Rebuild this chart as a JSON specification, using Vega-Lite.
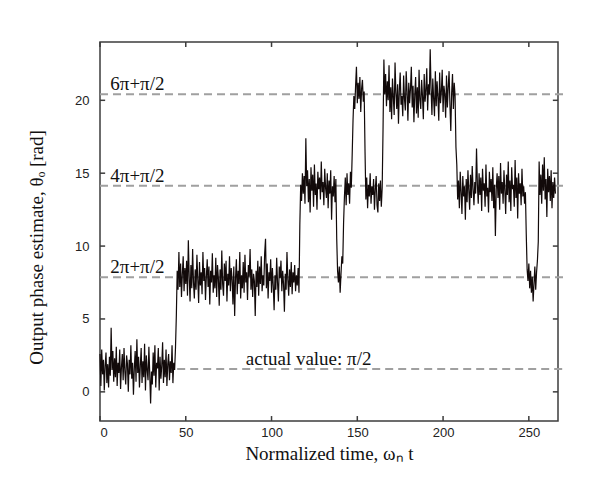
{
"$schema": "https://vega.github.io/schema/vega-lite/v6.json",
"width": 458, "height": 379,
"autosize": {"type": "none"},
"padding": {"left": 100, "top": 42, "right": 42, "bottom": 64},
"background": "white",
"config": {
  "view": {"stroke": "#3c3c3c", "strokeWidth": 1.5},
  "axis": {"domain": false, "grid": false, "ticks": false,
    "labelFont": "Liberation Sans", "labelFontSize": 13, "labelColor": "#222",
    "titleFont": "Liberation Serif", "titleFontSize": 19, "titleFontWeight": "normal", "titleColor": "#111"}
},
"datasets": {
  "refs": [
    {"level": 1.5708, "from": 45, "to": 270},
    {"level": 7.854, "from": 0, "to": 270},
    {"level": 14.137, "from": 0, "to": 270},
    {"level": 20.42, "from": 0, "to": 270}
  ],
  "xticks": [{"t": 0}, {"t": 50}, {"t": 100}, {"t": 150}, {"t": 200}, {"t": 250}],
  "yticks": [{"v": 0}, {"v": 5}, {"v": 10}, {"v": 15}, {"v": 20}],
  "labels": [
    {"t": 6, "v": 20.42, "label": "6π+π/2"},
    {"t": 6, "v": 14.137, "label": "4π+π/2"},
    {"t": 6, "v": 7.854, "label": "2π+π/2"},
    {"t": 85, "v": 1.5708, "label": "actual value: π/2"}
  ],
  "signal": [
{"t":0,"v":2.6},{"t":0.5,"v":0.4},{"t":1,"v":2.9},{"t":1.5,"v":1.2},{"t":2,"v":2.2},{"t":2.5,"v":0.1},{"t":3,"v":1.8},{"t":3.5,"v":2.7},{"t":4,"v":0.6},{"t":4.5,"v":1.9},
{"t":5,"v":0.3},{"t":5.5,"v":2.4},{"t":6,"v":1.1},{"t":6.5,"v":4.4},{"t":7,"v":1.5},{"t":7.5,"v":2.8},{"t":8,"v":0.7},{"t":8.5,"v":2.3},{"t":9,"v":1.0},{"t":9.5,"v":3.1},
{"t":10,"v":0.4},{"t":10.5,"v":2.0},{"t":11,"v":1.3},{"t":11.5,"v":2.9},{"t":12,"v":0.2},{"t":12.5,"v":1.7},{"t":13,"v":2.6},{"t":13.5,"v":0.8},{"t":14,"v":3.0},{"t":14.5,"v":1.4},
{"t":15,"v":0.5},{"t":15.5,"v":2.5},{"t":16,"v":1.9},{"t":16.5,"v":0.0},{"t":17,"v":2.2},{"t":17.5,"v":1.2},{"t":18,"v":3.2},{"t":18.5,"v":0.9},{"t":19,"v":2.0},{"t":19.5,"v":-0.2},
{"t":20,"v":1.6},{"t":20.5,"v":2.8},{"t":21,"v":0.7},{"t":21.5,"v":3.6},{"t":22,"v":1.3},{"t":22.5,"v":2.4},{"t":23,"v":0.3},{"t":23.5,"v":1.8},{"t":24,"v":3.0},{"t":24.5,"v":0.6},
{"t":25,"v":2.1},{"t":25.5,"v":1.0},{"t":26,"v":3.3},{"t":26.5,"v":0.1},{"t":27,"v":2.5},{"t":27.5,"v":1.5},{"t":28,"v":0.8},{"t":28.5,"v":3.1},{"t":29,"v":1.2},{"t":29.5,"v":-0.8},
{"t":30,"v":1.4},{"t":30.5,"v":0.5},{"t":31,"v":2.7},{"t":31.5,"v":1.1},{"t":32,"v":3.2},{"t":32.5,"v":0.3},{"t":33,"v":2.0},{"t":33.5,"v":1.6},{"t":34,"v":3.0},{"t":34.5,"v":0.1},
{"t":35,"v":2.4},{"t":35.5,"v":0.9},{"t":36,"v":1.8},{"t":36.5,"v":3.4},{"t":37,"v":0.6},{"t":37.5,"v":2.2},{"t":38,"v":1.0},{"t":38.5,"v":2.9},{"t":39,"v":0.4},{"t":39.5,"v":1.9},
{"t":40,"v":2.6},{"t":40.5,"v":0.8},{"t":41,"v":2.1},{"t":41.5,"v":1.3},{"t":42,"v":3.2},{"t":42.5,"v":0.6},{"t":43,"v":2.0},{"t":43.5,"v":1.5},{"t":44,"v":3.0},{"t":44.5,"v":5.2},
{"t":45,"v":8.3},{"t":45.5,"v":7.0},{"t":46,"v":9.6},{"t":46.5,"v":7.2},{"t":47,"v":8.8},{"t":47.5,"v":6.5},{"t":48,"v":8.1},{"t":48.5,"v":9.3},{"t":49,"v":6.9},{"t":49.5,"v":8.5},
{"t":50,"v":7.4},{"t":50.5,"v":9.0},{"t":51,"v":6.6},{"t":51.5,"v":10.4},{"t":52,"v":7.9},{"t":52.5,"v":6.2},{"t":53,"v":8.7},{"t":53.5,"v":7.1},{"t":54,"v":9.8},{"t":54.5,"v":7.5},
{"t":55,"v":6.4},{"t":55.5,"v":8.4},{"t":56,"v":7.0},{"t":56.5,"v":9.4},{"t":57,"v":7.7},{"t":57.5,"v":6.1},{"t":58,"v":8.9},{"t":58.5,"v":7.3},{"t":59,"v":8.2},{"t":59.5,"v":6.7},
{"t":60,"v":9.6},{"t":60.5,"v":7.6},{"t":61,"v":8.5},{"t":61.5,"v":6.3},{"t":62,"v":7.9},{"t":62.5,"v":9.1},{"t":63,"v":7.2},{"t":63.5,"v":8.6},{"t":64,"v":6.0},{"t":64.5,"v":8.3},
{"t":65,"v":7.5},{"t":65.5,"v":9.5},{"t":66,"v":6.8},{"t":66.5,"v":8.0},{"t":67,"v":7.1},{"t":67.5,"v":9.2},{"t":68,"v":6.5},{"t":68.5,"v":8.7},{"t":69,"v":7.8},{"t":69.5,"v":5.9},
{"t":70,"v":8.4},{"t":70.5,"v":7.0},{"t":71,"v":9.7},{"t":71.5,"v":7.4},{"t":72,"v":6.6},{"t":72.5,"v":8.8},{"t":73,"v":7.6},{"t":73.5,"v":9.0},{"t":74,"v":6.2},{"t":74.5,"v":8.1},
{"t":75,"v":7.3},{"t":75.5,"v":9.3},{"t":76,"v":6.9},{"t":76.5,"v":8.5},{"t":77,"v":7.7},{"t":77.5,"v":6.0},{"t":78,"v":8.6},{"t":78.5,"v":5.2},{"t":79,"v":7.8},{"t":79.5,"v":9.1},
{"t":80,"v":6.7},{"t":80.5,"v":8.3},{"t":81,"v":7.4},{"t":81.5,"v":9.6},{"t":82,"v":6.4},{"t":82.5,"v":8.0},{"t":83,"v":7.1},{"t":83.5,"v":8.9},{"t":84,"v":6.8},{"t":84.5,"v":9.4},
{"t":85,"v":7.5},{"t":85.5,"v":8.2},{"t":86,"v":6.3},{"t":86.5,"v":8.7},{"t":87,"v":7.9},{"t":87.5,"v":9.8},{"t":88,"v":7.0},{"t":88.5,"v":8.4},{"t":89,"v":6.5},{"t":89.5,"v":8.1},
{"t":90,"v":7.6},{"t":90.5,"v":5.2},{"t":91,"v":8.3},{"t":91.5,"v":7.2},{"t":92,"v":9.0},{"t":92.5,"v":6.6},{"t":93,"v":8.6},{"t":93.5,"v":7.4},{"t":94,"v":9.3},{"t":94.5,"v":6.9},
{"t":95,"v":8.0},{"t":95.5,"v":7.3},{"t":96,"v":9.5},{"t":96.5,"v":10.5},{"t":97,"v":7.1},{"t":97.5,"v":8.8},{"t":98,"v":6.4},{"t":98.5,"v":8.2},{"t":99,"v":7.6},{"t":99.5,"v":9.1},
{"t":100,"v":6.8},{"t":100.5,"v":8.5},{"t":101,"v":7.3},{"t":101.5,"v":5.6},{"t":102,"v":8.0},{"t":102.5,"v":7.0},{"t":103,"v":9.2},{"t":103.5,"v":7.5},{"t":104,"v":6.2},{"t":104.5,"v":8.6},
{"t":105,"v":7.8},{"t":105.5,"v":9.0},{"t":106,"v":6.9},{"t":106.5,"v":8.3},{"t":107,"v":7.4},{"t":107.5,"v":5.5},{"t":108,"v":8.1},{"t":108.5,"v":7.0},{"t":109,"v":9.6},{"t":109.5,"v":7.7},
{"t":110,"v":6.6},{"t":110.5,"v":8.4},{"t":111,"v":7.2},{"t":111.5,"v":8.9},{"t":112,"v":6.7},{"t":112.5,"v":8.2},{"t":113,"v":7.5},{"t":113.5,"v":8.7},{"t":114,"v":6.9},{"t":114.5,"v":8.0},
{"t":115,"v":7.3},{"t":115.5,"v":8.5},{"t":116,"v":6.8},{"t":116.5,"v":11.5},{"t":117,"v":14.2},{"t":117.5,"v":13.1},{"t":118,"v":15.0},{"t":118.5,"v":13.6},{"t":119,"v":14.8},{"t":119.5,"v":12.9},
{"t":120,"v":17.4},{"t":120.5,"v":14.1},{"t":121,"v":15.2},{"t":121.5,"v":13.0},{"t":122,"v":14.6},{"t":122.5,"v":12.3},{"t":123,"v":15.4},{"t":123.5,"v":13.8},{"t":124,"v":14.9},{"t":124.5,"v":12.7},
{"t":125,"v":15.6},{"t":125.5,"v":13.5},{"t":126,"v":14.3},{"t":126.5,"v":12.5},{"t":127,"v":15.1},{"t":127.5,"v":13.9},{"t":128,"v":14.7},{"t":128.5,"v":13.2},{"t":129,"v":15.8},{"t":129.5,"v":13.7},
{"t":130,"v":14.4},{"t":130.5,"v":12.8},{"t":131,"v":15.3},{"t":131.5,"v":14.0},{"t":132,"v":13.3},{"t":132.5,"v":15.0},{"t":133,"v":12.6},{"t":133.5,"v":14.5},{"t":134,"v":13.6},{"t":134.5,"v":15.2},
{"t":135,"v":11.8},{"t":135.5,"v":14.1},{"t":136,"v":13.4},{"t":136.5,"v":14.8},{"t":137,"v":13.0},{"t":137.5,"v":14.6},{"t":138,"v":10.5},{"t":138.5,"v":8.3},{"t":139,"v":7.5},{"t":139.5,"v":8.6},
{"t":140,"v":6.8},{"t":140.5,"v":8.1},{"t":141,"v":9.3},{"t":141.5,"v":8.8},{"t":142,"v":11.6},{"t":142.5,"v":13.4},{"t":143,"v":14.7},{"t":143.5,"v":12.8},{"t":144,"v":15.0},{"t":144.5,"v":13.5},
{"t":145,"v":14.3},{"t":145.5,"v":12.9},{"t":146,"v":15.1},{"t":146.5,"v":14.0},{"t":147,"v":16.2},{"t":147.5,"v":18.6},{"t":148,"v":20.3},{"t":148.5,"v":19.4},{"t":149,"v":21.0},{"t":149.5,"v":22.3},
{"t":150,"v":19.8},{"t":150.5,"v":21.2},{"t":151,"v":20.1},{"t":151.5,"v":21.6},{"t":152,"v":19.2},{"t":152.5,"v":20.8},{"t":153,"v":21.4},{"t":153.5,"v":19.9},{"t":154,"v":20.6},{"t":154.5,"v":16.5},
{"t":155,"v":13.2},{"t":155.5,"v":14.7},{"t":156,"v":12.6},{"t":156.5,"v":14.2},{"t":157,"v":13.4},{"t":157.5,"v":15.0},{"t":158,"v":12.9},{"t":158.5,"v":14.1},{"t":159,"v":13.5},{"t":159.5,"v":14.6},
{"t":160,"v":12.5},{"t":160.5,"v":13.9},{"t":161,"v":14.8},{"t":161.5,"v":12.8},{"t":162,"v":12.3},{"t":162.5,"v":14.3},{"t":163,"v":13.1},{"t":163.5,"v":14.5},{"t":164,"v":12.7},{"t":164.5,"v":14.0},
{"t":165,"v":18.0},{"t":165.5,"v":22.8},{"t":166,"v":20.4},{"t":166.5,"v":21.8},{"t":167,"v":19.6},{"t":167.5,"v":21.3},{"t":168,"v":20.0},{"t":168.5,"v":22.4},{"t":169,"v":19.2},{"t":169.5,"v":20.9},
{"t":170,"v":18.7},{"t":170.5,"v":21.5},{"t":171,"v":20.2},{"t":171.5,"v":19.0},{"t":172,"v":22.6},{"t":172.5,"v":20.5},{"t":173,"v":19.4},{"t":173.5,"v":21.1},{"t":174,"v":18.4},{"t":174.5,"v":20.7},
{"t":175,"v":21.9},{"t":175.5,"v":19.7},{"t":176,"v":20.3},{"t":176.5,"v":18.9},{"t":177,"v":21.7},{"t":177.5,"v":20.1},{"t":178,"v":19.3},{"t":178.5,"v":22.0},{"t":179,"v":20.6},{"t":179.5,"v":18.6},
{"t":180,"v":21.2},{"t":180.5,"v":19.8},{"t":181,"v":20.8},{"t":181.5,"v":22.3},{"t":182,"v":19.5},{"t":182.5,"v":21.0},{"t":183,"v":18.5},{"t":183.5,"v":20.4},{"t":184,"v":21.6},{"t":184.5,"v":19.1},
{"t":185,"v":20.9},{"t":185.5,"v":18.8},{"t":186,"v":22.1},{"t":186.5,"v":20.0},{"t":187,"v":19.4},{"t":187.5,"v":21.4},{"t":188,"v":20.3},{"t":188.5,"v":18.7},{"t":189,"v":21.8},{"t":189.5,"v":19.9},
{"t":190,"v":20.7},{"t":190.5,"v":22.2},{"t":191,"v":19.3},{"t":191.5,"v":21.1},{"t":192,"v":20.4},{"t":192.5,"v":23.5},{"t":193,"v":20.8},{"t":193.5,"v":19.0},{"t":194,"v":21.5},{"t":194.5,"v":20.1},
{"t":195,"v":18.9},{"t":195.5,"v":22.0},{"t":196,"v":19.6},{"t":196.5,"v":21.3},{"t":197,"v":20.2},{"t":197.5,"v":18.6},{"t":198,"v":21.9},{"t":198.5,"v":19.8},{"t":199,"v":20.6},{"t":199.5,"v":22.1},
{"t":200,"v":19.2},{"t":200.5,"v":21.0},{"t":201,"v":20.4},{"t":201.5,"v":18.8},{"t":202,"v":21.7},{"t":202.5,"v":19.5},{"t":203,"v":20.9},{"t":203.5,"v":22.0},{"t":204,"v":19.7},{"t":204.5,"v":17.9},
{"t":205,"v":20.5},{"t":205.5,"v":21.8},{"t":206,"v":19.4},{"t":206.5,"v":21.2},{"t":207,"v":20.3},{"t":207.5,"v":16.8},{"t":208,"v":15.6},{"t":208.5,"v":13.2},{"t":209,"v":14.5},{"t":209.5,"v":12.6},
{"t":210,"v":15.1},{"t":210.5,"v":13.7},{"t":211,"v":12.2},{"t":211.5,"v":14.8},{"t":212,"v":13.4},{"t":212.5,"v":14.1},{"t":213,"v":11.8},{"t":213.5,"v":14.6},{"t":214,"v":13.0},{"t":214.5,"v":15.2},
{"t":215,"v":13.8},{"t":215.5,"v":12.5},{"t":216,"v":14.9},{"t":216.5,"v":13.3},{"t":217,"v":15.5},{"t":217.5,"v":13.9},{"t":218,"v":12.8},{"t":218.5,"v":14.4},{"t":219,"v":13.6},{"t":219.5,"v":16.7},
{"t":220,"v":14.2},{"t":220.5,"v":12.9},{"t":221,"v":15.0},{"t":221.5,"v":13.5},{"t":222,"v":14.7},{"t":222.5,"v":12.4},{"t":223,"v":15.3},{"t":223.5,"v":13.8},{"t":224,"v":14.3},{"t":224.5,"v":12.7},
{"t":225,"v":15.6},{"t":225.5,"v":13.4},{"t":226,"v":14.0},{"t":226.5,"v":12.3},{"t":227,"v":15.1},{"t":227.5,"v":13.7},{"t":228,"v":14.6},{"t":228.5,"v":13.1},{"t":229,"v":15.4},{"t":229.5,"v":12.6},
{"t":230,"v":14.2},{"t":230.5,"v":10.7},{"t":231,"v":13.9},{"t":231.5,"v":15.0},{"t":232,"v":13.3},{"t":232.5,"v":14.8},{"t":233,"v":12.5},{"t":233.5,"v":15.7},{"t":234,"v":13.6},{"t":234.5,"v":14.4},
{"t":235,"v":12.9},{"t":235.5,"v":15.2},{"t":236,"v":13.8},{"t":236.5,"v":12.2},{"t":237,"v":14.9},{"t":237.5,"v":13.5},{"t":238,"v":15.8},{"t":238.5,"v":13.0},{"t":239,"v":14.5},{"t":239.5,"v":12.4},
{"t":240,"v":15.4},{"t":240.5,"v":13.9},{"t":241,"v":14.2},{"t":241.5,"v":12.7},{"t":242,"v":15.9},{"t":242.5,"v":13.3},{"t":243,"v":14.7},{"t":243.5,"v":11.9},{"t":244,"v":15.0},{"t":244.5,"v":13.6},
{"t":245,"v":14.3},{"t":245.5,"v":12.8},{"t":246,"v":15.3},{"t":246.5,"v":13.4},{"t":247,"v":14.1},{"t":247.5,"v":12.9},{"t":248,"v":13.7},{"t":248.5,"v":10.8},{"t":249,"v":8.4},{"t":249.5,"v":7.6},
{"t":250,"v":8.8},{"t":250.5,"v":7.1},{"t":251,"v":8.3},{"t":251.5,"v":6.8},{"t":252,"v":7.9},{"t":252.5,"v":6.2},{"t":253,"v":7.4},{"t":253.5,"v":8.6},{"t":254,"v":7.0},{"t":254.5,"v":8.2},
{"t":255,"v":9.0},{"t":255.5,"v":10.3},{"t":256,"v":15.8},{"t":256.5,"v":13.5},{"t":257,"v":14.9},{"t":257.5,"v":12.9},{"t":258,"v":15.6},{"t":258.5,"v":13.8},{"t":259,"v":16.1},{"t":259.5,"v":13.2},
{"t":260,"v":14.6},{"t":260.5,"v":12.0},{"t":261,"v":15.3},{"t":261.5,"v":13.7},{"t":262,"v":14.8},{"t":262.5,"v":13.1},{"t":263,"v":15.2},{"t":263.5,"v":12.6},{"t":264,"v":14.4},{"t":264.5,"v":13.3},
{"t":265,"v":14.7},{"t":265.5,"v":13.6}
  ]
},
"layer": [
  {
    "data": {"name": "refs"},
    "mark": {"type": "rule", "color": "#a0a0a0", "strokeWidth": 2, "strokeDash": [8, 5]},
    "encoding": {
      "x": {"field": "from", "type": "quantitative", "scale": {"domain": [0, 267], "nice": false},
        "axis": {"orient": "bottom", "values": [0, 50, 100, 150, 200, 250], "labelPadding": 5, "title": "Normalized time, ωₙ t", "titleY": 23, "titleBaseline": "top"}},
      "x2": {"field": "to"},
      "y": {"field": "level", "type": "quantitative", "scale": {"domain": [-2, 24], "nice": false},
        "axis": {"orient": "left", "values": [0, 5, 10, 15, 20], "labelPadding": 11, "title": "Output phase estimate, θₒ  [rad]", "titleX": -54, "titleY": 205}}
    }
  },
  {
    "data": {"name": "signal"},
    "mark": {"type": "line", "color": "#120a0a", "strokeWidth": 1.2},
    "encoding": {
      "x": {"field": "t", "type": "quantitative",
        "axis": {"orient": "bottom", "values": [0, 50, 100, 150, 200, 250], "labelPadding": 5, "title": "Normalized time, ωₙ t", "titleY": 23, "titleBaseline": "top"}},
      "y": {"field": "v", "type": "quantitative",
        "axis": {"orient": "left", "values": [0, 5, 10, 15, 20], "labelPadding": 11, "title": "Output phase estimate, θₒ  [rad]", "titleX": -54, "titleY": 205}}
    }
  },
  {
    "data": {"name": "labels"},
    "mark": {"type": "text", "align": "left", "baseline": "alphabetic", "dy": -4, "font": "Liberation Serif", "fontSize": 19, "color": "#111"},
    "encoding": {
      "x": {"field": "t", "type": "quantitative",
        "axis": {"orient": "bottom", "values": [0, 50, 100, 150, 200, 250], "labelPadding": 5, "title": "Normalized time, ωₙ t", "titleY": 23, "titleBaseline": "top"}},
      "y": {"field": "v", "type": "quantitative",
        "axis": {"orient": "left", "values": [0, 5, 10, 15, 20], "labelPadding": 11, "title": "Output phase estimate, θₒ  [rad]", "titleX": -54, "titleY": 205}},
      "text": {"field": "label"}
    }
  },
  {
    "data": {"name": "xticks"},
    "mark": {"type": "rule", "color": "#3c3c3c", "strokeWidth": 1.5},
    "encoding": {
      "x": {"field": "t", "type": "quantitative",
        "axis": {"orient": "bottom", "values": [0, 50, 100, 150, 200, 250], "labelPadding": 5, "title": "Normalized time, ωₙ t", "titleY": 23, "titleBaseline": "top"}},
      "y": {"datum": -2,
        "axis": {"orient": "left", "values": [0, 5, 10, 15, 20], "labelPadding": 11, "title": "Output phase estimate, θₒ  [rad]", "titleX": -54, "titleY": 205}},
      "y2": {"datum": -1.66}
    }
  },
  {
    "data": {"name": "xticks"},
    "mark": {"type": "rule", "color": "#3c3c3c", "strokeWidth": 1.5},
    "encoding": {
      "x": {"field": "t", "type": "quantitative",
        "axis": {"orient": "bottom", "values": [0, 50, 100, 150, 200, 250], "labelPadding": 5, "title": "Normalized time, ωₙ t", "titleY": 23, "titleBaseline": "top"}},
      "y": {"datum": 24,
        "axis": {"orient": "left", "values": [0, 5, 10, 15, 20], "labelPadding": 11, "title": "Output phase estimate, θₒ  [rad]", "titleX": -54, "titleY": 205}},
      "y2": {"datum": 23.66}
    }
  },
  {
    "data": {"name": "yticks"},
    "mark": {"type": "rule", "color": "#3c3c3c", "strokeWidth": 1.5},
    "encoding": {
      "y": {"field": "v", "type": "quantitative",
        "axis": {"orient": "left", "values": [0, 5, 10, 15, 20], "labelPadding": 11, "title": "Output phase estimate, θₒ  [rad]", "titleX": -54, "titleY": 205}},
      "x": {"datum": 0,
        "axis": {"orient": "bottom", "values": [0, 50, 100, 150, 200, 250], "labelPadding": 5, "title": "Normalized time, ωₙ t", "titleY": 23, "titleBaseline": "top"}},
      "x2": {"datum": 3}
    }
  },
  {
    "data": {"name": "yticks"},
    "mark": {"type": "rule", "color": "#3c3c3c", "strokeWidth": 1.5},
    "encoding": {
      "y": {"field": "v", "type": "quantitative",
        "axis": {"orient": "left", "values": [0, 5, 10, 15, 20], "labelPadding": 11, "title": "Output phase estimate, θₒ  [rad]", "titleX": -54, "titleY": 205}},
      "x": {"datum": 267,
        "axis": {"orient": "bottom", "values": [0, 50, 100, 150, 200, 250], "labelPadding": 5, "title": "Normalized time, ωₙ t", "titleY": 23, "titleBaseline": "top"}},
      "x2": {"datum": 264}
    }
  }
]
}
